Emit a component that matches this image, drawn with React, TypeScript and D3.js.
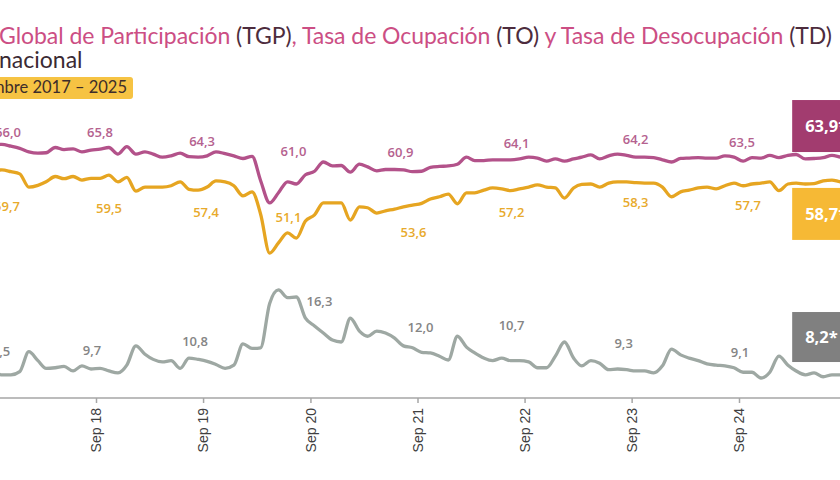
import React, { useEffect, useRef } from 'react';
import * as d3 from 'd3';

// Monthly series, Sep 2017 – Sep 2025 (points placed mid-month)
const months = d3.range(97).map(i => new Date(2017, 8 + i, 15));

const tgp = [
  67.0, 67.0, 66.6, 66.1, 65.3, 65.0, 65.1, 66.3, 65.8, 66.0, 65.3, 65.7,
  65.9, 66.3, 64.8, 66.5, 64.8, 65.3, 64.8, 64.1, 64.4, 65.0, 64.2, 64.1,
  64.4, 65.3, 64.9, 64.4, 63.8, 64.3, 58.8, 53.7, 56.0, 58.5, 58.0, 60.1,
  60.9, 63.0, 62.1, 62.2, 60.7, 62.5, 61.9, 61.0, 61.3, 61.3, 61.2, 60.8,
  60.9, 61.8, 62.0, 62.1, 62.5, 64.1, 63.3, 63.3, 63.5, 63.5, 63.5, 63.7,
  64.1, 63.9, 63.2, 63.7, 63.2, 63.7, 64.1, 64.6, 63.7, 64.4, 64.8, 64.5,
  64.1, 64.1, 64.0, 63.5, 63.0, 63.8, 63.9, 64.0, 63.9, 63.9, 64.4, 64.1,
  63.2, 64.0, 63.9, 64.5, 64.0, 64.5, 64.7, 63.7, 63.8, 64.0, 64.5, 64.1,
  63.9
];

const to = [
  61.0, 61.2, 60.8, 60.3, 57.3, 57.7, 58.5, 59.7, 59.2, 59.7, 58.9, 59.3,
  59.3, 60.0, 58.5, 59.5, 56.4, 57.3, 57.3, 57.3, 57.6, 58.5, 56.8, 56.6,
  57.3, 58.7, 58.5, 57.6, 55.3, 56.2, 51.2, 42.3, 44.6, 46.9, 45.7, 49.6,
  51.0, 53.7, 53.7, 53.7, 49.8, 52.8, 52.6, 51.4, 51.9, 52.3, 52.8, 53.2,
  53.6, 54.6, 55.1, 55.7, 53.5, 56.0, 56.0, 56.6, 57.1, 56.9, 56.5, 56.9,
  57.3, 57.8, 57.3, 57.1, 54.8, 57.1, 57.9, 58.0, 57.3, 58.2, 58.5, 58.5,
  58.3, 58.2, 58.2, 57.3, 55.1, 56.2, 56.6, 57.1, 57.3, 56.9, 57.6, 58.2,
  57.6, 58.0, 58.2, 58.5, 56.5, 58.0, 58.2, 58.0, 58.1, 58.7, 58.9, 58.5,
  58.7
];

const td = [
  9.5, 8.7, 8.7, 9.2, 12.3, 10.9, 9.7, 9.8, 10.0, 9.3, 10.1, 9.6,
  9.7, 9.3, 9.0, 10.2, 13.2, 11.9, 11.1, 10.7, 10.9, 9.7, 11.3, 11.1,
  10.8, 10.3, 9.7, 10.2, 13.5, 12.8, 12.9, 19.8, 21.9, 20.7, 20.8, 17.5,
  16.3, 15.2, 14.1, 13.8, 17.5, 15.5, 14.7, 15.5, 15.2, 14.4, 13.2, 12.9,
  12.2, 12.1, 11.6, 11.0, 14.7, 13.0, 12.1, 11.3, 10.9, 11.3, 10.9, 10.9,
  10.7, 9.8, 9.8, 11.6, 13.8, 11.3, 10.1, 10.9, 10.5, 9.5, 9.6, 9.5,
  9.3, 9.3, 9.0, 10.1, 12.7, 11.8, 11.3, 10.9, 10.4, 10.2, 10.1, 9.8,
  9.1, 9.1, 8.2, 9.1, 11.6, 10.2, 9.3, 8.7, 9.0, 8.4, 8.7, 8.7,
  8.2
];

// September labels
const labelYears = [2017, 2018, 2019, 2020, 2021, 2022, 2023, 2024];
const tgpLabels = [66.0, 65.8, 64.3, 61.0, 60.9, 64.1, 64.2, 63.5];
const toLabels = [59.7, 59.5, 57.4, 51.1, 53.6, 57.2, 58.3, 57.7];
const tdLabels = [9.5, 9.7, 10.8, 16.3, 12.0, 10.7, 9.3, 9.1];
const latest = [63.9, 58.7, 8.2];
const tickYears = d3.range(2017, 2026);

const App: React.FC = () => {
  const svgRef = useRef<SVGSVGElement>(null);

  useEffect(() => {
    if (!svgRef.current) return;
    const svg = d3.select(svgRef.current);
    svg.selectAll('*').remove();

    const W = 840, H = 480;
    const axisY = 398;

    const x = d3.scaleTime()
      .domain([new Date(2018, 8, 1), new Date(2024, 8, 1)])
      .range([96, 739]);
    const y = d3.scaleLinear().domain([40, 70]).range([263.2, 131.2]);
    const yTD = d3.scaleLinear().domain([5, 25]).range([398.6, 270]);

    const fmt = (v: number) => d3.format('.1f')(v).replace('.', ',');

    svg.append('rect').attr('width', W).attr('height', H).attr('fill', '#fff');

    // title
    const title = svg.append('text')
      .attr('x', -1).attr('y', 44)
      .style('font-family', 'Lato, "Open Sans", sans-serif')
      .style('font-size', '23px')
      .attr('textLength', 833)
      .attr('lengthAdjust', 'spacing');
    const pink = '#cc4e84', dark = '#4d2c3d';
    [
      ['Global de Participación ', pink], ['(TGP)', dark], [', Tasa de Ocupación ', pink],
      ['(TO)', dark], [' y Tasa de Desocupación ', pink], ['(TD)', dark]
    ].forEach(([t, c]) => title.append('tspan').attr('fill', c).text(t));

    svg.append('text')
      .attr('x', -1).attr('y', 68)
      .style('font-family', 'Lato, "Open Sans", sans-serif')
      .style('font-size', '23px')
      .attr('fill', '#3b2a33')
      .text('nacional');

    svg.append('rect')
      .attr('x', -10).attr('y', 77).attr('width', 143).attr('height', 22)
      .attr('rx', 3)
      .attr('fill', '#f6c343');
    svg.append('text')
      .attr('x', 127).attr('y', 93)
      .attr('text-anchor', 'end')
      .style('font-family', 'Lato, "Open Sans", sans-serif')
      .style('font-size', '16.5px')
      .attr('fill', '#3d2d2a')
      .text('Septiembre 2017 – 2025');

    // axis
    svg.append('line')
      .attr('x1', x(new Date(2017, 0, 1))).attr('x2', x(new Date(2025, 11, 31)))
      .attr('y1', axisY).attr('y2', axisY)
      .attr('stroke', '#a6a6a6').attr('stroke-width', 1.5);

    const axis = svg.append('g')
      .attr('transform', `translate(0,${axisY})`)
      .call(d3.axisBottom(x)
        .tickValues(tickYears.map(yr => new Date(yr, 8, 1)))
        .tickSize(5)
        .tickFormat(d => d3.timeFormat('Sep %y')(d as Date)));
    axis.select('.domain').remove();
    axis.selectAll('line').attr('stroke', '#a6a6a6').attr('stroke-width', 1.5);
    axis.selectAll('text')
      .attr('transform', 'rotate(-90)')
      .attr('text-anchor', 'end')
      .attr('x', -10).attr('y', 0).attr('dy', '0.35em')
      .style('font-family', '"Liberation Sans", Arial, sans-serif')
      .style('font-size', '14px')
      .attr('fill', '#404040');

    // lines
    const series = [
      { data: tgp, scale: y, color: '#b3528a' },
      { data: to, scale: y, color: '#e6a521' },
      { data: td, scale: yTD, color: '#9ea8a3' }
    ];
    series.forEach(s => {
      const line = d3.line<number>()
        .x((_, i) => x(months[i]))
        .y(d => s.scale(d))
        .curve(d3.curveMonotoneX);
      svg.append('path')
        .datum(s.data)
        .attr('d', line)
        .attr('fill', 'none')
        .attr('stroke', s.color)
        .attr('stroke-width', 3.3)
        .attr('stroke-linejoin', 'round');
    });

    // value labels (nudges keep them off the lines)
    const nudges = {
      tgp: { dx: [19, 4, -1, -17, -17, -8, 4, 3], dy: [-16, -17, -15, -19, -19, -14, -17, -17] },
      to: { dx: [18, 13, 3, -22, -4, -13, 4, 9], dy: [30, 31, 26, 3, 29, 25, 20, 20] },
      td: { dx: [12, -4, -8, 9, 3, -13, -8, 1], dy: [-18, -18, -20, -24, -26, -36, -28, -20] }
    };
    const labelSets = [
      { vals: tgpLabels, scale: y, color: '#b5628f', n: nudges.tgp },
      { vals: toLabels, scale: y, color: '#e8aa2c', n: nudges.to },
      { vals: tdLabels, scale: yTD, color: '#858585', n: nudges.td }
    ];
    labelSets.forEach(ls => {
      svg.append('g').selectAll('text')
        .data(ls.vals)
        .enter()
        .append('text')
        .attr('x', (d, i) => x(new Date(labelYears[i], 8, 1)) + ls.n.dx[i])
        .attr('y', (d, i) => ls.scale(d) + ls.n.dy[i])
        .attr('dy', '0.35em')
        .attr('text-anchor', 'middle')
        .style('font-family', '"Open Sans", sans-serif')
        .style('font-size', '13px')
        .style('font-weight', 600)
        .attr('fill', ls.color)
        .text(d => fmt(d));
    });

    // latest value boxes
    const lastX = x(months[months.length - 1]) - 58;
    const boxes = [
      { v: latest[0], top: y(latest[0]) - 58, h: 52, fill: '#a23c6f' },
      { v: latest[1], top: y(latest[1]) + 7, h: 52, fill: '#f6b935' },
      { v: latest[2], top: yTD(latest[2]) - 66, h: 50, fill: '#808080' }
    ];
    boxes.forEach(b => {
      svg.append('rect')
        .attr('x', lastX).attr('y', b.top)
        .attr('width', 90).attr('height', b.h)
        .attr('fill', b.fill);
      svg.append('text')
        .attr('x', lastX + 13).attr('y', b.top + b.h / 2)
        .attr('dy', '0.35em')
        .style('font-family', '"Open Sans", sans-serif')
        .style('font-size', '16.5px')
        .style('font-weight', 700)
        .attr('fill', '#fff')
        .text(fmt(b.v) + '*');
    });
  }, []);

  return (
    <svg
      ref={svgRef}
      width={840}
      height={480}
      style={{ position: 'absolute', left: 0, top: 0, display: 'block' }}
    />
  );
};

export default App;
